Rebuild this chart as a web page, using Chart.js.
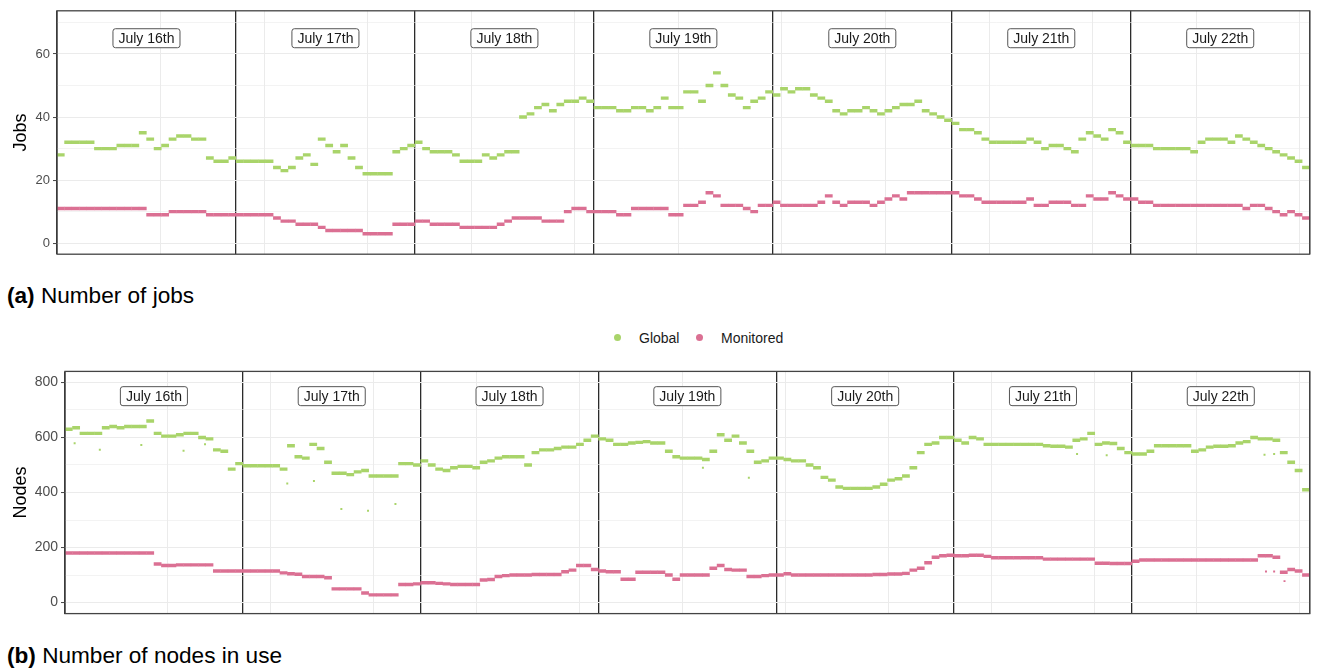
<!DOCTYPE html>
<html><head><meta charset="utf-8">
<script src="https://cdn.jsdelivr.net/npm/chart.js@4.4.1/dist/chart.umd.min.js"></script>
<style>
html,body{margin:0;padding:0;background:#fff;}
body{width:1317px;height:668px;position:relative;overflow:hidden;font-family:"Liberation Sans",Arial,sans-serif;}
canvas{position:absolute;left:0;}
#c1{top:0;}
#c2{top:360px;}
.cap{position:absolute;left:7px;font-size:22.6px;line-height:22px;color:#000;white-space:nowrap;}
.legend{position:absolute;top:330px;left:0;font-size:14px;line-height:16px;color:#1a1a1a;}
.legend span{position:absolute;white-space:nowrap;}
.dot{width:7px;height:7px;border-radius:50%;}
</style>
</head><body>
<canvas id="c1" width="1317" height="265" style="width:1317px;height:265px"></canvas>
<div class="cap" style="top:285px"><b>(a)</b> Number of jobs</div>
<div class="legend">
  <span class="dot" style="left:614px;top:4px;background:#A9D46A"></span>
  <span style="left:639px;top:0">Global</span>
  <span class="dot" style="left:696px;top:4px;background:#DB7093"></span>
  <span style="left:721px;top:0">Monitored</span>
</div>
<canvas id="c2" width="1317" height="265" style="width:1317px;height:265px"></canvas>
<div class="cap" style="top:645px"><b>(b)</b> Number of nodes in use</div>
<script>
// ---- categories ----
const dayLabels = ["July 16th","July 17th","July 18th","July 19th","July 20th","July 21th","July 22th"];
const seriesNames = ["Global","Monitored"];
const seriesColors = ["#A9D46A","#DB7093"];
// hourly readings (168 per series, hour 0 = July 16th 00:00)
const jobsGlobal = [
 28,32,32,32,32,30,30,30,31,31,31,35,33,30,31,33,34,34,33,33,27,26,26,27,
 26,26,26,26,26,24,23,24,27,28,25,33,31,29,31,27,24,22,22,22,22,29,30,31,
 32,30,29,29,29,28,26,26,26,28,27,28,29,29,40,41,43,44,42,44,45,45,46,45,
 43,43,43,42,42,43,43,42,43,46,43,43,48,48,45,50,54,50,47,46,43,45,46,48,
 47,49,48,49,49,47,46,45,42,41,42,42,43,42,41,42,43,44,44,45,42,41,40,39,
 38,36,36,35,33,32,32,32,32,32,33,32,30,31,31,30,29,33,35,34,33,36,35,32,
 31,31,31,30,30,30,30,30,29,32,33,33,33,32,34,33,32,31,30,29,28,27,26,24];
const jobsMonitored = [
 11,11,11,11,11,11,11,11,11,11,11,11,9,9,9,10,10,10,10,10,9,9,9,9,
 9,9,9,9,9,8,7,7,6,6,6,5,4,4,4,4,4,3,3,3,3,6,6,6,
 7,7,6,6,6,6,5,5,5,5,5,6,7,8,8,8,8,7,7,7,10,11,11,10,
 10,10,10,9,9,11,11,11,11,11,9,9,12,12,13,16,15,12,12,12,11,10,12,12,
 13,12,12,12,12,12,13,15,13,12,13,13,13,12,13,14,15,14,16,16,16,16,16,16,
 16,15,15,14,13,13,13,13,13,13,14,12,12,13,13,13,12,12,15,14,14,16,15,14,
 14,13,13,12,12,12,12,12,12,12,12,12,12,12,12,11,12,12,11,10,9,10,9,8];
const nodesGlobal = [
 630,635,615,615,615,635,640,635,640,640,640,660,615,605,605,610,615,615,600,595,555,550,485,505,
 497,497,497,497,497,485,570,530,525,575,560,510,470,470,465,475,480,460,460,460,460,505,505,500,
 515,500,485,480,490,495,495,490,510,515,525,530,530,530,500,545,555,555,560,565,565,575,590,605,
 595,590,575,575,580,582,585,580,580,550,530,525,525,525,520,550,610,590,605,580,550,510,515,525,
 525,520,515,515,500,490,455,445,420,415,415,415,415,420,430,445,450,460,490,545,575,580,600,600,
 590,580,600,595,575,575,575,575,575,575,575,575,570,568,568,565,590,595,615,575,580,578,560,545,
 540,540,550,570,570,570,570,570,550,555,565,568,568,570,580,585,600,595,595,590,545,510,480,410];
const nodesMonitored = [
 180,180,180,180,180,180,180,180,180,180,180,180,140,135,135,137,137,137,137,137,115,115,115,115,
 115,115,115,115,115,108,105,103,95,95,95,90,50,50,50,50,35,28,28,28,28,66,66,68,
 72,72,70,68,66,66,66,66,82,84,95,98,100,100,100,102,102,102,102,112,118,135,135,120,
 115,112,112,85,85,110,110,110,110,100,85,100,100,100,100,125,135,120,118,118,95,95,98,100,
 100,105,100,100,100,100,100,100,100,100,100,100,100,102,102,104,104,106,118,125,145,165,170,172,
 170,170,172,172,168,163,163,163,163,163,163,163,158,158,158,158,158,158,158,143,143,142,142,142,
 150,155,155,155,155,155,155,155,155,155,155,155,155,155,155,155,155,170,170,165,110,120,115,100];
// stray single readings [hour, value]
const nodesGlobalStray = [[1.3,579],[4.7,555],[10.3,573],[16.0,552],[18.9,575],[30.0,433],[33.6,442],[37.3,340],[40.9,334],[44.6,358],[86.1,490],[92.3,454],[136.6,540],[140.6,535],[161.9,537],[163.2,540]];
const nodesMonitoredStray = [[162.1,113],[163.2,113],[164.6,78]];
// ---- axes ----
const totalHours = 168;
const gridStepHours = 50000/3600;
const gridBreaks = Array.from({length:13},(_,k)=>k*gridStepHours);
const dayBreaks = [0,24,48,72,96,120,144,168];
const jobsTicks = [0,10,20,30,40,50,60,70];
const nodesTicks = [0,100,200,300,400,500,600,700,800];

function toPts(arr){ return arr.map((v,i)=>({x:i+0.5,y:v})); }
function strayPts(arr){ return arr.map(p=>({x:p[0],y:p[1]})); }

const framePlugin = {
  id:'frame',
  afterDraw(chart){
    const {ctx, chartArea:a, scales} = chart;
    const o = chart.options.plugins.frame;
    ctx.save();
    ctx.font = '14px "Liberation Sans", Arial, sans-serif';
    ctx.textAlign='center'; ctx.textBaseline='middle';
    dayLabels.forEach((t,d)=>{
      const cx = scales.x.getPixelForValue(d*24+12);
      const cy = scales.y.getPixelForValue(o.labelY);
      const w = ctx.measureText(t).width + 11, h = 19;
      const x0 = cx - w/2, y0 = cy - h/2, r = 2.5;
      ctx.beginPath();
      ctx.moveTo(x0+r,y0); ctx.lineTo(x0+w-r,y0); ctx.arcTo(x0+w,y0,x0+w,y0+r,r);
      ctx.lineTo(x0+w,y0+h-r); ctx.arcTo(x0+w,y0+h,x0+w-r,y0+h,r);
      ctx.lineTo(x0+r,y0+h); ctx.arcTo(x0,y0+h,x0,y0+h-r,r);
      ctx.lineTo(x0,y0+r); ctx.arcTo(x0,y0,x0+r,y0,r); ctx.closePath();
      ctx.fillStyle='#fff'; ctx.fill();
      ctx.strokeStyle='#555'; ctx.lineWidth=1; ctx.stroke();
      ctx.fillStyle='#1a1a1a'; ctx.fillText(t,cx,cy+0.5);
    });
    ctx.strokeStyle='#444'; ctx.lineWidth=1.3;
    ctx.strokeRect(a.left,a.top,a.right-a.left,a.bottom-a.top);
    ctx.restore();
  }
};

function makeChart(id, gl, mo, glStray, moStray, yMin, yMax, yTicks, major, yTitle, leftW, pad, labelY, tickFont){
  const datasets = [
    {label:seriesNames[0], data:toPts(gl), borderColor:seriesColors[0], backgroundColor:seriesColors[0]},
    {label:seriesNames[1], data:toPts(mo), borderColor:seriesColors[1], backgroundColor:seriesColors[1]}
  ].map(d=>Object.assign(d,{showLine:false,pointStyle:'line',pointRadius:3.9,pointBorderWidth:3.4,pointHoverRadius:3.9}));
  if (glStray) datasets.push({label:'g2',data:strayPts(glStray),showLine:false,pointStyle:'rect',pointRadius:1.4,borderWidth:0,backgroundColor:seriesColors[0],borderColor:seriesColors[0]});
  if (moStray) datasets.push({label:'m2',data:strayPts(moStray),showLine:false,pointStyle:'rect',pointRadius:1.4,borderWidth:0,backgroundColor:seriesColors[1],borderColor:seriesColors[1]});
  return new Chart(document.getElementById(id),{
    type:'scatter',
    data:{datasets},
    options:{
      responsive:false, animation:false, devicePixelRatio:1,
      layout:{padding:pad},
      plugins:{legend:{display:false},tooltip:{enabled:false},frame:{labelY}},
      events:[],
      scales:{
        x:{type:'linear',min:0,max:totalHours,position:'bottom',
           afterBuildTicks:s=>{s.ticks=gridBreaks.map(v=>({value:v}));},
           ticks:{display:false},
           grid:{color:'#EBEBEB',lineWidth:1,drawTicks:false},
           border:{display:false},
           afterFit:s=>{s.height=0;}},
        days:{type:'linear',min:0,max:totalHours,position:'bottom',z:1,
           afterBuildTicks:s=>{s.ticks=dayBreaks.map(v=>({value:v}));},
           ticks:{display:false},
           grid:{color:'#2b2b2b',lineWidth:1.3,drawTicks:false},
           border:{display:false},
           afterFit:s=>{s.height=0;}},
        y:{type:'linear',min:yMin,max:yMax,position:'left',
           afterBuildTicks:s=>{s.ticks=yTicks.map(v=>({value:v}));},
           ticks:{color:'#4D4D4D',font:{size:tickFont,family:'"Liberation Sans", Arial, sans-serif'},padding:3,
                  callback:v=>(v%major===0?String(v):'')},
           grid:{color:'#EBEBEB',lineWidth:c=>(c.tick && c.tick.value%major===0?1.1:0.6),
                 drawTicks:true,tickLength:4,tickWidth:1,
                 tickColor:c=>(c.tick && c.tick.value%major===0?'#444':'rgba(0,0,0,0)')},
           border:{display:false},
           title:{display:true,text:yTitle,color:'#000',padding:{top:10,bottom:0},
                  font:{size:18,family:'"Liberation Sans", Arial, sans-serif'}},
           afterFit:s=>{s.width=leftW;}}
      }
    },
    plugins:[framePlugin]
  });
}

makeChart('c1', jobsGlobal, jobsMonitored, null, null, -3.5, 73.7, jobsTicks, 20, 'Jobs', 57, {left:0,right:2,top:9,bottom:10}, 65, 13);
makeChart('c2', nodesGlobal, nodesMonitored, nodesGlobalStray, nodesMonitoredStray, -40, 840, nodesTicks, 200, 'Nodes', 65, {left:0,right:2,top:11,bottom:9}, 750, 14);
</script>
</body></html>
